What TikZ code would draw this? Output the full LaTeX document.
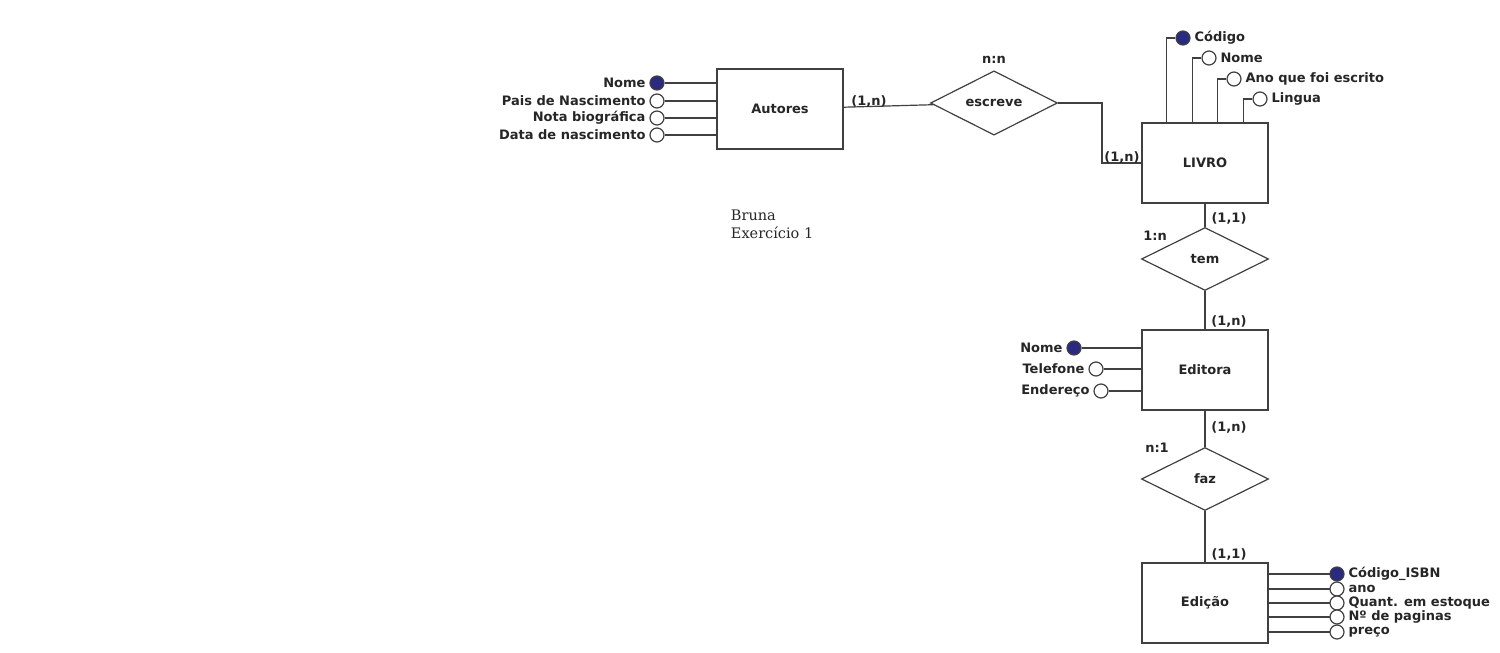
\documentclass[tikz,border=0pt]{standalone}
\usepackage{fontspec}
\setmainfont{DejaVu Sans}
\newfontfamily\notefont{DejaVu Serif}
\usepackage{tikz}
\usetikzlibrary{shapes.geometric}
\definecolor{keyblue}{RGB}{42,42,128}

\begin{document}
\begin{tikzpicture}[x=1pt,y=-1pt,line width=1.2pt,draw=black!75,
	every node/.style={font=\fontsize{13}{15}\selectfont\bfseries,text=black!85},
	entity/.style={draw=black!75,fill=white,minimum width=126,minimum height=80,inner sep=0},
	rel/.style={diamond,draw=black!75,fill=white,minimum width=127,minimum height=63,inner sep=0},
	attr/.style={circle,draw=black!75,fill=white,minimum size=14,inner sep=0},
	key/.style={attr,fill=keyblue}]
				  \useasboundingbox (0,0) rectangle (1500,653);
				  \node[entity] (Autores) at (780,109) {Autores};
				  \node[entity] (LIVRO) at (1205,163) {LIVRO};
				  \node[entity] (Editora) at (1205,370) {Editora};
				  \node[entity] (Edicao) at (1205,603) {Edição};
				  \node[rel] (escreve) at (994,103) {escreve};
				  \node[rel] (tem) at (1205,259) {tem};
				  \node[rel] (faz) at (1205,479) {faz};
				  \coordinate (bend) at (1102,103);
				  \draw (Autores) -- (escreve);
				  \draw (escreve) -- (bend) |- (LIVRO);
				  \draw (LIVRO) -- (tem);
				  \draw (tem) -- (Editora);
				  \draw (Editora) -- (faz);
				  \draw (faz) -- (Edicao);
				  \node (c1) at (869,101) {(1,n)};
				  \node (c2) at (994,60) {n:n};
				  \node (c3) at (1122,157) {(1,n)};
				  \node (c4) at (1229,218) {(1,1)};
				  \node (c5) at (1155,236) {1:n};
				  \node (c6) at (1229,321) {(1,n)};
				  \node (c7) at (1229,427) {(1,n)};
				  \node (c8) at (1157,448) {n:1};
				  \node (c9) at (1229,554) {(1,1)};
				  \foreach \y/\txt/\kind [count=\i] in {83/Nome/key,101/Pais de Nascimento/attr,118/Nota biográfica/attr,135/Data de nascimento/attr}{
				     \node[\kind,label=left:\txt] (au\i) at (657,\y) {};
				     \draw (au\i) -- (Autores.west |- au\i);
				  }
				  \foreach \dx/\y/\txt/\kind [count=\i] in {25/38/Código/key,51/58/Nome/attr,76/79/Ano que foi escrito/attr,102/99/Lingua/attr}{
				     \node[\kind,label=right:\txt] (li\i) at (1158+\dx,\y) {};
				     \draw (li\i) -| ([xshift=\dx]LIVRO.north west);
				  }
				  \foreach \x/\y/\txt/\kind [count=\i] in {1074/348/Nome/key,1096/369/Telefone/attr,1101/391/Endereço/attr}{
				     \node[\kind,label=left:\txt] (ed\i) at (\x,\y) {};
				     \draw (ed\i) -- (Editora.west |- ed\i);
				  }
				  \foreach \y/\txt/\kind [count=\i] in {574/Código\_ISBN/key,589/ano/attr,603/Quant. em estoque/attr,617/Nº de paginas/attr,632/preço/attr}{
				     \draw (Edicao.east |- 0,\y) -- (1330,\y);
				     \node[\kind,label=right:\txt] (ic\i) at (1337,\y) {};
				  }
				  \node[font=\notefont\fontsize{14.5}{18}\selectfont,align=left,anchor=north west] (nota) at (727,206) {Bruna\\Exercício 1};
\end{tikzpicture}
\end{document}
